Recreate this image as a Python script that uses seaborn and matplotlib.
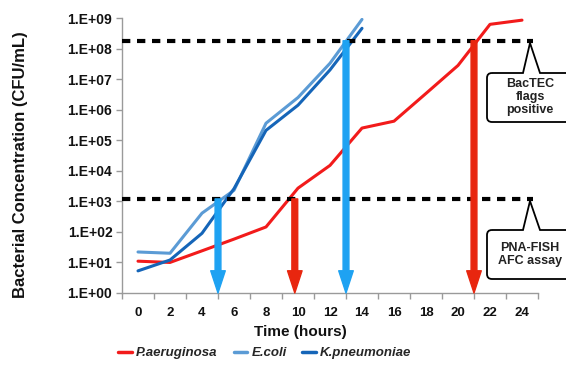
import numpy as np
import pandas as pd
import matplotlib
matplotlib.use('Agg')
import matplotlib.pyplot as plt
import seaborn as sns
from matplotlib.path import Path as MPath
from matplotlib.patches import PathPatch, FancyArrowPatch
from matplotlib.ticker import FixedLocator, FuncFormatter

# growth curves
hours_pa = [0, 2, 4, 6, 8, 10, 12, 14, 16, 18, 20, 22, 24]
conc_pa = [11, 10, 24, 58, 145, 2.7e3, 1.5e4, 2.5e5, 4.2e5, 3.4e6, 2.8e7, 6.2e8, 8.5e8]
hours_blue = [0, 2, 4, 6, 8, 10, 12, 14]
conc_ec = [22, 20, 410, 2.3e3, 3.6e5, 2.5e6, 3.3e7, 9.0e8]
conc_kp = [5.3, 12, 90, 2.6e3, 2.1e5, 1.4e6, 2.0e7, 4.6e8]
species = ['P.aeruginosa', 'E.coli', 'K.pneumoniae']

# detection thresholds and arrow times
bactec_level = 1.8e8
pna_level = 1.2e3
arrow_hours = [5, 9.8, 13, 21]
arrow_levels = [pna_level, pna_level, bactec_level, bactec_level]
arrow_colors = ['#1ea2f2', '#e8260f', '#1ea2f2', '#e8260f']

palette = {'P.aeruginosa': '#f21b1b', 'E.coli': '#5b9bd5', 'K.pneumoniae': '#1565b8'}

df = pd.concat([
    pd.DataFrame({'hours': hours_pa, 'conc': conc_pa, 'species': species[0]}),
    pd.DataFrame({'hours': hours_blue, 'conc': conc_ec, 'species': species[1]}),
    pd.DataFrame({'hours': hours_blue, 'conc': conc_kp, 'species': species[2]}),
])

sns.set_theme(style='ticks')
plt.rcParams['font.family'] = ['Liberation Sans', 'DejaVu Sans']

W, H = 566, 366
fig = plt.figure(figsize=(W / 100, H / 100), dpi=100)
ax = fig.add_axes([122 / W, 1 - 293 / H, 416 / W, 275 / H])

sns.lineplot(data=df, x='hours', y='conc', hue='species', hue_order=species,
             palette=palette, estimator=None, linewidth=2.2, ax=ax)
ax.set_yscale('log')
ax.set_ylim(1, 1e9)
ax.set_xlim(-1, 25)

# threshold lines
for lvl in [bactec_level, pna_level]:
    ax.plot([-1, 24.7], [lvl, lvl], color='black', linewidth=3,
            dashes=(2, 1.6), zorder=3)

# arrows down to the x axis
for hx, lvl, c in zip(arrow_hours, arrow_levels, arrow_colors):
    arr = FancyArrowPatch((hx, lvl), (hx, 1),
                          arrowstyle='simple,head_length=1.6,head_width=1.05,tail_width=0.42',
                          mutation_scale=10, color=c, shrinkA=0, shrinkB=0,
                          zorder=4, clip_on=False)
    ax.add_patch(arr)

# axes styling
sns.despine(ax=ax)
for side in ['left', 'bottom']:
    ax.spines[side].set_color('#9a9a9a')
    ax.spines[side].set_linewidth(1)

ax.yaxis.set_major_locator(FixedLocator([10.0 ** k for k in range(10)]))
ax.yaxis.set_minor_locator(FixedLocator([]))
ax.yaxis.set_major_formatter(FuncFormatter(lambda v, p: f"1.E+{int(round(np.log10(v))):02d}"))
ax.tick_params(axis='y', length=4, width=1, color='#9a9a9a', pad=3,
               labelsize=10)

ax.xaxis.set_major_locator(FixedLocator(list(range(0, 25, 2))))
ax.xaxis.set_minor_locator(FixedLocator(list(range(-1, 26, 2))))
ax.tick_params(axis='x', which='major', length=0, pad=10, labelsize=9.5)
ax.tick_params(axis='x', which='minor', length=4, width=1, color='#9a9a9a')
for lab in ax.get_xticklabels() + ax.get_yticklabels():
    lab.set_fontweight('bold')
    lab.set_color('#111111')

ax.set_xlabel('Time (hours)', fontsize=11, fontweight='bold', color='#111111')
ax.set_ylabel('Bacterial Concentration (CFU/mL)', fontsize=12, fontweight='bold',
              color='#111111')
ax.xaxis.set_label_coords(0.428, -0.142)
ax.xaxis.label.set_va('center')
ax.yaxis.set_label_coords(-0.245, 0.465)
ax.yaxis.label.set_va('center')

# legend below
handles, labels = ax.get_legend_handles_labels()
ax.get_legend().remove()
leg = fig.legend(handles, labels, loc='center', bbox_to_anchor=(265 / W, 1 - 353 / H),
                 ncol=3, frameon=False, handlelength=1.0, handletextpad=0.35,
                 columnspacing=1.2, prop={'size': 9.5, 'weight': 'bold', 'style': 'italic'})
for line in leg.get_lines():
    line.set_linewidth(2.5)


def bubble(x0, y0, x1, y1, bx0, bx1, tx, ty, r=5):
    # speech-bubble outline in pixel coords (y down), returned in figure fractions
    pts = [(x0 + r, y0), (bx0, y0), (tx, ty), (bx1, y0), (x1 - r, y0),
           (x1, y0), (x1, y0 + r), (x1, y1 - r), (x1, y1), (x1 - r, y1),
           (x0 + r, y1), (x0, y1), (x0, y1 - r), (x0, y0 + r), (x0, y0), (x0 + r, y0)]
    codes = [MPath.MOVETO, MPath.LINETO, MPath.LINETO, MPath.LINETO, MPath.LINETO,
             MPath.CURVE3, MPath.CURVE3, MPath.LINETO, MPath.CURVE3, MPath.CURVE3,
             MPath.LINETO, MPath.CURVE3, MPath.CURVE3, MPath.LINETO, MPath.CURVE3, MPath.CURVE3]
    verts = [(x / W, 1 - y / H) for x, y in pts]
    return PathPatch(MPath(verts, codes), transform=fig.transFigure,
                     facecolor='white', edgecolor='black', linewidth=1.3, zorder=5)


fig.patches.append(bubble(487, 73, 580, 122, 523, 540, 530, 43))
fig.patches.append(bubble(487, 230, 580, 279, 523, 540, 530, 201))
fig.text(530 / W, 1 - 97 / H, 'BacTEC\nflags\npositive', ha='center', va='center',
         fontsize=9, fontweight='bold', color='#222222', linespacing=1.1, zorder=6)
fig.text(530 / W, 1 - 254.5 / H, 'PNA-FISH\nAFC assay', ha='center', va='center',
         fontsize=9, fontweight='bold', color='#222222', linespacing=1.1, zorder=6)

fig.savefig('out.png', dpi=100)
plt.close(fig)
